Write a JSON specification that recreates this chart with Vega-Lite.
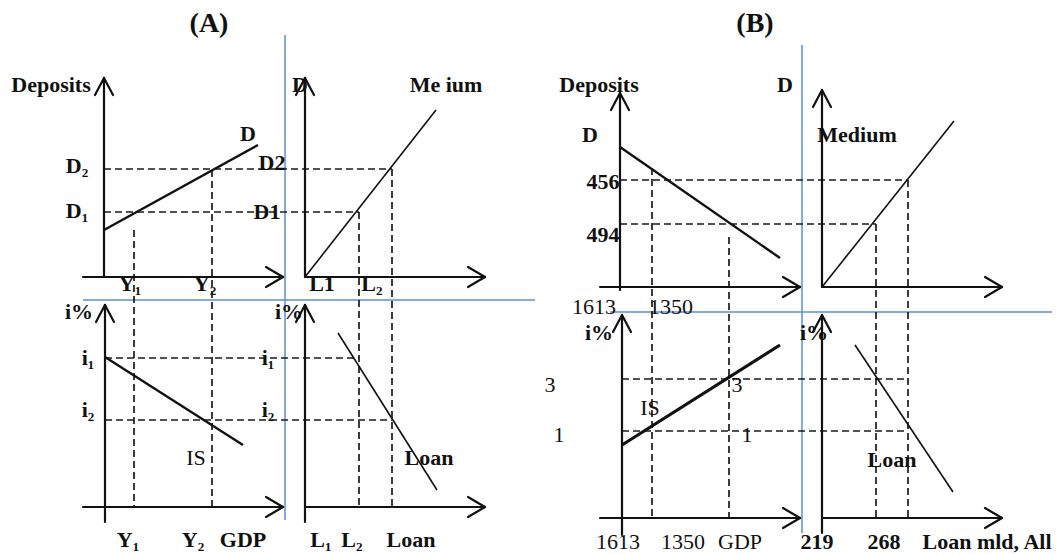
{
  "$schema": "https://vega.github.io/schema/vega-lite/v6.json",
  "autosize": {"type": "fit", "contains": "padding"},
  "width": 1063,
  "height": 555,
  "padding": 0,
  "background": "white",
  "config": {"view": {"stroke": null}},
  "datasets": {
    "blue": [
      {"x1": 285, "y1": 35, "x2": 285, "y2": 520},
      {"x1": 83, "y1": 300, "x2": 535, "y2": 300},
      {"x1": 802, "y1": 45, "x2": 802, "y2": 533},
      {"x1": 610, "y1": 312, "x2": 1052, "y2": 312}
    ],
    "axes": [
      {"x1": 104, "y1": 78, "x2": 104, "y2": 277},
      {"x1": 83, "y1": 277, "x2": 283, "y2": 277},
      {"x1": 305, "y1": 78, "x2": 305, "y2": 277},
      {"x1": 305, "y1": 277, "x2": 485, "y2": 277},
      {"x1": 105, "y1": 305, "x2": 105, "y2": 522},
      {"x1": 83, "y1": 507, "x2": 283, "y2": 507},
      {"x1": 305, "y1": 305, "x2": 305, "y2": 522},
      {"x1": 305, "y1": 507, "x2": 485, "y2": 507},
      {"x1": 620, "y1": 93, "x2": 620, "y2": 290},
      {"x1": 600, "y1": 287, "x2": 800, "y2": 287},
      {"x1": 822, "y1": 90, "x2": 822, "y2": 287},
      {"x1": 822, "y1": 287, "x2": 1002, "y2": 287},
      {"x1": 622, "y1": 315, "x2": 622, "y2": 535},
      {"x1": 600, "y1": 518, "x2": 800, "y2": 518},
      {"x1": 822, "y1": 315, "x2": 822, "y2": 533},
      {"x1": 822, "y1": 518, "x2": 1002, "y2": 518},
      {"x1": 104, "y1": 78, "x2": 95, "y2": 95},
      {"x1": 104, "y1": 78, "x2": 113, "y2": 95},
      {"x1": 305, "y1": 78, "x2": 296, "y2": 95},
      {"x1": 305, "y1": 78, "x2": 314, "y2": 95},
      {"x1": 105, "y1": 305, "x2": 96, "y2": 322},
      {"x1": 105, "y1": 305, "x2": 114, "y2": 322},
      {"x1": 305, "y1": 305, "x2": 296, "y2": 322},
      {"x1": 305, "y1": 305, "x2": 314, "y2": 322},
      {"x1": 620, "y1": 93, "x2": 611, "y2": 110},
      {"x1": 620, "y1": 93, "x2": 629, "y2": 110},
      {"x1": 822, "y1": 90, "x2": 813, "y2": 107},
      {"x1": 822, "y1": 90, "x2": 831, "y2": 107},
      {"x1": 622, "y1": 315, "x2": 613, "y2": 332},
      {"x1": 622, "y1": 315, "x2": 631, "y2": 332},
      {"x1": 822, "y1": 315, "x2": 813, "y2": 332},
      {"x1": 822, "y1": 315, "x2": 831, "y2": 332},
      {"x1": 283, "y1": 277, "x2": 266, "y2": 267},
      {"x1": 283, "y1": 277, "x2": 266, "y2": 287},
      {"x1": 485, "y1": 277, "x2": 468, "y2": 267},
      {"x1": 485, "y1": 277, "x2": 468, "y2": 287},
      {"x1": 283, "y1": 507, "x2": 266, "y2": 497},
      {"x1": 283, "y1": 507, "x2": 266, "y2": 517},
      {"x1": 485, "y1": 507, "x2": 468, "y2": 497},
      {"x1": 485, "y1": 507, "x2": 468, "y2": 517},
      {"x1": 800, "y1": 287, "x2": 783, "y2": 277},
      {"x1": 800, "y1": 287, "x2": 783, "y2": 297},
      {"x1": 1002, "y1": 287, "x2": 985, "y2": 277},
      {"x1": 1002, "y1": 287, "x2": 985, "y2": 297},
      {"x1": 800, "y1": 518, "x2": 783, "y2": 508},
      {"x1": 800, "y1": 518, "x2": 783, "y2": 528},
      {"x1": 1002, "y1": 518, "x2": 985, "y2": 508},
      {"x1": 1002, "y1": 518, "x2": 985, "y2": 528}
    ],
    "dashes": [
      {"x1": 104, "y1": 169, "x2": 392, "y2": 169},
      {"x1": 104, "y1": 212, "x2": 359, "y2": 212},
      {"x1": 134, "y1": 230, "x2": 134, "y2": 507},
      {"x1": 212, "y1": 170, "x2": 212, "y2": 507},
      {"x1": 359, "y1": 212, "x2": 359, "y2": 507},
      {"x1": 392, "y1": 169, "x2": 392, "y2": 507},
      {"x1": 105, "y1": 358, "x2": 359, "y2": 358},
      {"x1": 105, "y1": 420, "x2": 392, "y2": 420},
      {"x1": 620, "y1": 180, "x2": 908, "y2": 180},
      {"x1": 620, "y1": 224, "x2": 876, "y2": 224},
      {"x1": 652, "y1": 168, "x2": 652, "y2": 518},
      {"x1": 729, "y1": 237, "x2": 729, "y2": 518},
      {"x1": 876, "y1": 224, "x2": 876, "y2": 518},
      {"x1": 908, "y1": 180, "x2": 908, "y2": 518},
      {"x1": 622, "y1": 379, "x2": 908, "y2": 379},
      {"x1": 622, "y1": 431, "x2": 908, "y2": 431}
    ],
    "curves": [
      {"curve": "A Deposits", "weight": "thick", "x1": 104, "y1": 230, "x2": 258, "y2": 145},
      {"curve": "A Medium", "weight": "thin", "x1": 305, "y1": 277, "x2": 436, "y2": 110},
      {"curve": "A IS", "weight": "thick", "x1": 105, "y1": 357, "x2": 243, "y2": 445},
      {"curve": "A Loan", "weight": "thin", "x1": 338, "y1": 333, "x2": 437, "y2": 490},
      {"curve": "B Deposits", "weight": "thick", "x1": 620, "y1": 147, "x2": 780, "y2": 258},
      {"curve": "B Medium", "weight": "thin", "x1": 822, "y1": 287, "x2": 954, "y2": 121},
      {"curve": "B IS", "weight": "heavy", "x1": 622, "y1": 445, "x2": 780, "y2": 345},
      {"curve": "B Loan", "weight": "thin", "x1": 855, "y1": 345, "x2": 953, "y2": 492}
    ],
    "titles": [
      {"text": "(A)", "x": 209, "y": 24},
      {"text": "(B)", "x": 755, "y": 24}
    ],
    "bold": [
      {"text": "Deposits", "x": 51, "y": 85},
      {"text": "D", "x": 248, "y": 134},
      {"text": "D₂", "x": 77, "y": 166},
      {"text": "D₁", "x": 77, "y": 211},
      {"text": "D2", "x": 272, "y": 163},
      {"text": "D1", "x": 267, "y": 212},
      {"text": "D", "x": 300, "y": 85},
      {"text": "Me ium", "x": 446, "y": 85},
      {"text": "Y₁", "x": 130, "y": 284},
      {"text": "Y₂", "x": 205, "y": 284},
      {"text": "L1", "x": 322, "y": 284},
      {"text": "L₂", "x": 372, "y": 284},
      {"text": "i%", "x": 79, "y": 312},
      {"text": "i%", "x": 289, "y": 312},
      {"text": "i₁", "x": 88, "y": 358},
      {"text": "i₂", "x": 88, "y": 410},
      {"text": "i₁", "x": 268, "y": 358},
      {"text": "i₂", "x": 268, "y": 410},
      {"text": "Loan", "x": 429, "y": 458},
      {"text": "Y₁", "x": 128, "y": 540},
      {"text": "Y₂", "x": 193, "y": 540},
      {"text": "GDP", "x": 243, "y": 540},
      {"text": "L₁", "x": 321, "y": 540},
      {"text": "L₂", "x": 352, "y": 540},
      {"text": "Loan", "x": 411, "y": 540},
      {"text": "Deposits", "x": 599, "y": 85},
      {"text": "D", "x": 785, "y": 85},
      {"text": "D", "x": 590, "y": 135},
      {"text": "456", "x": 603, "y": 182},
      {"text": "494", "x": 603, "y": 235},
      {"text": "Medium", "x": 857, "y": 135},
      {"text": "i%", "x": 599, "y": 333},
      {"text": "i%", "x": 814, "y": 333},
      {"text": "Loan", "x": 892, "y": 460},
      {"text": "219", "x": 817, "y": 542},
      {"text": "268", "x": 884, "y": 542},
      {"text": "Loan mld, All", "x": 987, "y": 542}
    ],
    "regular": [
      {"text": "IS", "x": 196, "y": 458},
      {"text": "1613", "x": 594, "y": 307},
      {"text": "1350", "x": 671, "y": 307},
      {"text": "3", "x": 550, "y": 385},
      {"text": "1", "x": 559, "y": 435},
      {"text": "IS", "x": 650, "y": 408},
      {"text": "3", "x": 737, "y": 385},
      {"text": "1", "x": 747, "y": 435},
      {"text": "1613", "x": 618, "y": 542},
      {"text": "1350", "x": 683, "y": 542},
      {"text": "GDP", "x": 740, "y": 542}
    ]
  },
  "layer": [
    {
      "data": {"name": "blue"},
      "mark": {"type": "rule", "color": "#5b8fd4", "strokeWidth": 1.5},
      "encoding": {
        "x": {"field": "x1", "type": "quantitative", "scale": {"domain": [0, 1063], "nice": false, "zero": false}, "axis": null},
        "y": {"field": "y1", "type": "quantitative", "scale": {"domain": [0, 555], "nice": false, "zero": false, "reverse": true}, "axis": null},
        "x2": {"field": "x2"},
        "y2": {"field": "y2"}
      }
    },
    {
      "data": {"name": "dashes"},
      "mark": {"type": "rule", "color": "#1a1a1a", "strokeWidth": 1.7, "strokeDash": [7, 4]},
      "encoding": {
        "x": {"field": "x1", "type": "quantitative", "axis": null},
        "y": {"field": "y1", "type": "quantitative", "axis": null},
        "x2": {"field": "x2"},
        "y2": {"field": "y2"}
      }
    },
    {
      "data": {"name": "axes"},
      "mark": {"type": "rule", "color": "#111", "strokeWidth": 2.2, "strokeCap": "round"},
      "encoding": {
        "x": {"field": "x1", "type": "quantitative", "axis": null},
        "y": {"field": "y1", "type": "quantitative", "axis": null},
        "x2": {"field": "x2"},
        "y2": {"field": "y2"}
      }
    },
    {
      "data": {"name": "curves"},
      "mark": {"type": "rule", "color": "#111"},
      "encoding": {
        "x": {"field": "x1", "type": "quantitative", "axis": null},
        "y": {"field": "y1", "type": "quantitative", "axis": null},
        "x2": {"field": "x2"},
        "y2": {"field": "y2"},
        "strokeWidth": {"field": "weight", "type": "nominal", "scale": {"domain": ["thin", "thick", "heavy"], "range": [1.6, 3.2, 7]}, "legend": null}
      }
    },
    {
      "data": {"name": "titles"},
      "mark": {"type": "text", "font": "Liberation Serif", "fontSize": 28, "fontWeight": "bold", "color": "#111", "align": "center", "baseline": "middle"},
      "encoding": {
        "x": {"field": "x", "type": "quantitative", "axis": null},
        "y": {"field": "y", "type": "quantitative", "axis": null},
        "text": {"field": "text"}
      }
    },
    {
      "data": {"name": "bold"},
      "mark": {"type": "text", "font": "Liberation Serif", "fontSize": 22, "fontWeight": "bold", "color": "#111", "align": "center", "baseline": "middle"},
      "encoding": {
        "x": {"field": "x", "type": "quantitative", "axis": null},
        "y": {"field": "y", "type": "quantitative", "axis": null},
        "text": {"field": "text"}
      }
    },
    {
      "data": {"name": "regular"},
      "mark": {"type": "text", "font": "Liberation Serif", "fontSize": 22, "color": "#111", "align": "center", "baseline": "middle"},
      "encoding": {
        "x": {"field": "x", "type": "quantitative", "axis": null},
        "y": {"field": "y", "type": "quantitative", "axis": null},
        "text": {"field": "text"}
      }
    }
  ]
}
